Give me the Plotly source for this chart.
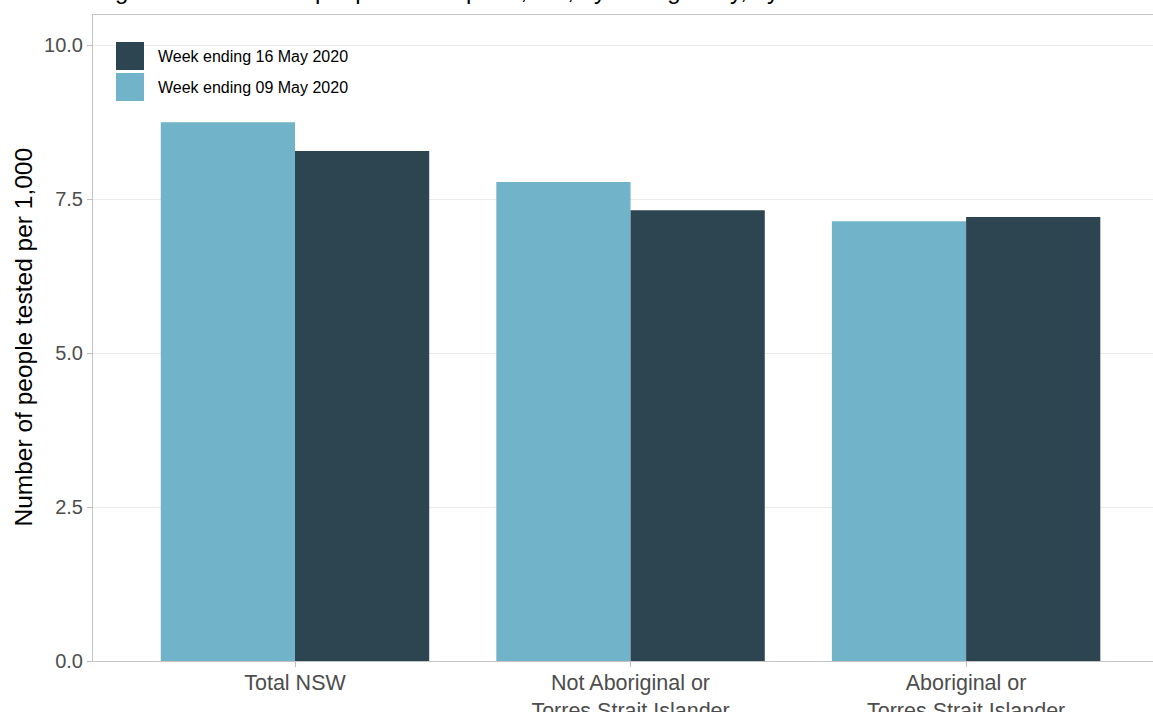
import plotly.graph_objects as go

categories = ["Total NSW", "Not Aboriginal or<br>Torres Strait Islander", "Aboriginal or<br>Torres Strait Islander"]
week_09_may = [8.75, 7.78, 7.14]
week_16_may = [8.28, 7.32, 7.21]
series_names = ["Week ending 09 May 2020", "Week ending 16 May 2020"]
y_ticks = [0, 2.5, 5, 7.5, 10]
y_tick_labels = ["0.0", "2.5", "5.0", "7.5", "10.0"]

LIGHT = "#71B3C8"
DARK = "#2C4550"
FONT = "Liberation Sans, Arial, sans-serif"

x_idx = list(range(len(categories)))

fig = go.Figure()
fig.add_trace(go.Bar(x=x_idx, y=week_09_may, name=series_names[0],
                     marker=dict(color=LIGHT, line=dict(width=0)), showlegend=False))
fig.add_trace(go.Bar(x=x_idx, y=week_16_may, name=series_names[1],
                     marker=dict(color=DARK, line=dict(width=0)), showlegend=False))

fig.update_layout(
    width=1153, height=712,
    margin=dict(l=93, r=0, t=15, b=51, autoexpand=False),
    paper_bgcolor="white", plot_bgcolor="white",
    barmode="group", bargap=0.2, bargroupgap=0,
    font=dict(family=FONT, color="#4D4D4D"),
    showlegend=False,
)

fig.update_xaxes(
    range=[-0.602, 2.557], automargin=False,
    tickvals=x_idx, ticktext=categories,
    tickfont=dict(size=21.5, color="#4D4D4D"),
    ticks="outside", ticklen=5, tickcolor="#BDBDBD",
    ticklabelstandoff=-3,
    showgrid=False, zeroline=False,
    showline=True, linecolor="#C4C4C4", linewidth=1, mirror=True,
)
fig.update_yaxes(
    range=[0, 10.49], automargin=False,
    tickvals=y_ticks, ticktext=y_tick_labels,
    tickfont=dict(size=20, color="#4D4D4D"),
    ticks="outside", ticklen=5, tickcolor="#BDBDBD",
    showgrid=True, gridcolor="#EBEBEB", gridwidth=1,
    zeroline=False,
    showline=True, linecolor="#C4C4C4", linewidth=1, mirror=True,
)

# Y-axis title
fig.add_annotation(
    text="Number of people tested per 1,000",
    xref="paper", yref="paper", x=-0.066, y=0.5008,
    xanchor="center", yanchor="middle", textangle=-90, showarrow=False,
    font=dict(size=24.5, color="black", family=FONT),
)

# Title (cut off at top of the page in the reference)
fig.add_annotation(
    text="Figure 4: Number of people tested per 1,000, by Aboriginality, by week",
    xref="paper", yref="paper", x=0.0, y=1.0377,
    xanchor="left", yanchor="middle", showarrow=False,
    font=dict(size=24, color="black", family=FONT),
)

# Legend (manual, ggplot-style square keys)
legend_items = [(series_names[1], DARK, 0.9582, 0.9149, 0.9365),
                (series_names[0], LIGHT, 0.9102, 0.8669, 0.8885)]
for label, color, y0, y1, ty in legend_items:
    fig.add_shape(type="rect", xref="paper", yref="paper",
                  x0=0.0217, x1=0.0481, y0=y1, y1=y0,
                  fillcolor=color, line=dict(width=0))
    fig.add_annotation(text=label, xref="paper", yref="paper",
                       x=0.0594, y=ty, xanchor="left", yanchor="middle",
                       showarrow=False, font=dict(size=16, color="black", family=FONT))

fig.write_html(
    "out.html",
    config={"displayModeBar": False},
    post_script="document.body.style.margin='0';document.body.style.overflow='hidden';",
)
